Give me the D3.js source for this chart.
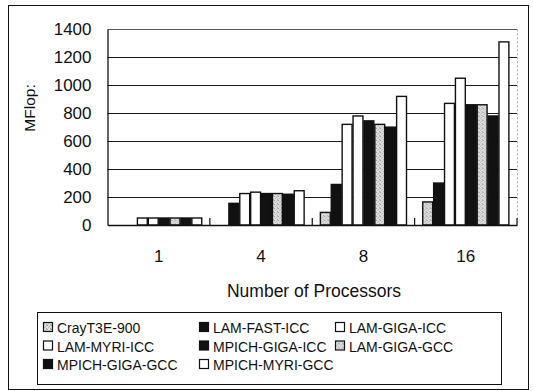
<!DOCTYPE html>
<html>
<head>
<meta charset="utf-8">
<script src="https://cdn.jsdelivr.net/npm/d3@7"></script>
<style>
  html, body { margin: 0; padding: 0; background: #fff; }
  svg { display: block; font-family: "Liberation Sans", Arial, sans-serif; }
</style>
</head>
<body>
<svg id="chart" width="533" height="391"></svg>
<script>
// Processor counts on the x axis
const categories = ["1", "4", "8", "16"];

// Configurations, in legend / bar order
const seriesNames = [
  "CrayT3E-900", "LAM-FAST-ICC", "LAM-GIGA-ICC", "LAM-MYRI-ICC",
  "MPICH-GIGA-ICC", "LAM-GIGA-GCC", "MPICH-GIGA-GCC", "MPICH-MYRI-GCC"
];

// MFlop per configuration for 1, 4, 8, 16 processors (null = not measured)
const crayT3E900   = [null, null, 90, 165];
const lamFastIcc   = [null, 155, 290, 300];
const lamGigaIcc   = [50, 225, 720, 870];
const lamMyriIcc   = [50, 235, 780, 1050];
const mpichGigaIcc = [50, 225, 745, 860];
const lamGigaGcc   = [50, 225, 720, 860];
const mpichGigaGcc = [50, 220, 700, 780];
const mpichMyriGcc = [50, 245, 920, 1310];

const seriesValues = [crayT3E900, lamFastIcc, lamGigaIcc, lamMyriIcc,
                      mpichGigaIcc, lamGigaGcc, mpichGigaGcc, mpichMyriGcc];

// Y axis tick labels
const yTicks = [0, 200, 400, 600, 800, 1000, 1200, 1400];

// Fill style per series: stipple, solid black or white
const fillKind = ["dots", "black", "white", "white", "black", "dots", "black", "white"];

const svg = d3.select("#chart");
const FONT = "'Liberation Sans', Arial, sans-serif";

// Speckled grey fill for the stippled bars
const defs = svg.append("defs");
const pat = defs.append("pattern")
  .attr("id", "stipple").attr("patternUnits", "userSpaceOnUse")
  .attr("width", 4).attr("height", 4);
pat.append("rect").attr("width", 4).attr("height", 4).attr("fill", "#dedede");
[[0, 0, "#9a9a9a"], [2, 1, "#b0b0b0"], [3, 3, "#a4a4a4"], [1, 2, "#bcbcbc"], [3, 0, "#c4c4c4"]]
  .forEach(([px, py, c]) => pat.append("rect")
    .attr("x", px).attr("y", py).attr("width", 1).attr("height", 1).attr("fill", c));

const fillOf = k => k === "black" ? "#111" : k === "white" ? "#fff" : "url(#stipple)";

// Outer frame
svg.append("rect").attr("x", 8.5).attr("y", 5.5).attr("width", 520).attr("height", 384)
  .attr("fill", "none").attr("stroke", "#111").attr("stroke-width", 1);

const plot = { left: 107.5, right: 517, top: 29.3, bottom: 225 };

const x0 = d3.scaleBand().domain(categories).range([plot.left, plot.right]).padding(0);
const x1 = d3.scaleBand().domain(seriesNames).range([0, x0.bandwidth()])
  .paddingInner(0).paddingOuter(0.7);
const y = d3.scaleLinear().domain([0, 1400]).range([plot.bottom, plot.top]);

// Horizontal gridlines
svg.append("g").selectAll("line").data(yTicks.filter(d => d > 0)).join("line")
  .attr("x1", plot.left).attr("x2", plot.right)
  .attr("y1", d => Math.round(y(d)) + 0.5).attr("y2", d => Math.round(y(d)) + 0.5)
  .attr("stroke", d => d === 1400 ? "#555" : "#1a1a1a").attr("stroke-width", 1.1);

// Right edge of the plot area
svg.append("line")
  .attr("x1", plot.right + 0.5).attr("x2", plot.right + 0.5)
  .attr("y1", y(1400)).attr("y2", y(0))
  .attr("stroke", "#aaa").attr("stroke-width", 1).attr("stroke-dasharray", "2,2");

// Bars
const groups = svg.append("g").selectAll("g").data(categories).join("g")
  .attr("transform", d => `translate(${x0(d)},0)`);

groups.selectAll("rect")
  .data((c, ci) => seriesNames.map((s, si) => ({ s, si, v: seriesValues[si][ci] }))
    .filter(d => d.v !== null))
  .join("rect")
  .attr("x", d => x1(d.s) + 0.5)
  .attr("width", x1.bandwidth() - 1)
  .attr("y", d => y(d.v))
  .attr("height", d => y(0) - y(d.v))
  .attr("fill", d => fillOf(fillKind[d.si]))
  .attr("stroke", "#111").attr("stroke-width", 1.4);

// Y axis
const yAxis = svg.append("g").attr("transform", `translate(${plot.left},0)`)
  .call(d3.axisLeft(y).tickValues(yTicks).tickSize(0).tickPadding(16).tickFormat(d3.format("d")));
yAxis.attr("font-family", FONT);
yAxis.select(".domain").attr("stroke", "#111").attr("stroke-width", 1.3);
yAxis.selectAll("text").attr("font-size", 17).attr("fill", "#111");

// X axis: baseline, category labels and boundary ticks pointing up
const xAxis = svg.append("g").attr("transform", `translate(0,${plot.bottom})`)
  .call(d3.axisBottom(x0).tickSize(0).tickPadding(25));
xAxis.attr("font-family", FONT);
xAxis.select(".domain").attr("stroke", "#111").attr("stroke-width", 1.3);
xAxis.selectAll("text").attr("font-size", 17).attr("fill", "#111");

const boundaries = categories.slice(1).map(c => x0(c)).concat([plot.right]);
svg.append("g").selectAll("line").data(boundaries).join("line")
  .attr("x1", d => d).attr("x2", d => d)
  .attr("y1", plot.bottom).attr("y2", plot.bottom - 7)
  .attr("stroke", "#111").attr("stroke-width", 1.2);

// Axis titles
svg.append("text")
  .attr("transform", "translate(35,108) rotate(-90)")
  .attr("text-anchor", "middle").attr("font-size", 15.5).attr("fill", "#111")
  .text("MFlop:");

svg.append("text")
  .attr("x", 314).attr("y", 297)
  .attr("text-anchor", "middle").attr("font-size", 17.5).attr("fill", "#111")
  .text("Number of Processors");

// Legend
svg.append("rect").attr("x", 37.5).attr("y", 312.5).attr("width", 464).attr("height", 72)
  .attr("fill", "#fff").attr("stroke", "#111").attr("stroke-width", 1);

const legendCols = [43, 199, 335];
const legendRows = [333, 351.5, 370];
const legend = svg.append("g").selectAll("g").data(seriesNames).join("g")
  .attr("transform", (d, i) => `translate(${legendCols[i % 3]},${legendRows[Math.floor(i / 3)]})`);

legend.append("rect")
  .attr("x", 0.5).attr("y", -10.5).attr("width", 9).attr("height", 9)
  .attr("fill", (d, i) => fillOf(fillKind[i]))
  .attr("stroke", "#111").attr("stroke-width", 1.2);

legend.append("text")
  .attr("x", 14).attr("y", 0)
  .attr("font-size", 14).attr("fill", "#111")
  .text(d => d);
</script>
</body>
</html>
